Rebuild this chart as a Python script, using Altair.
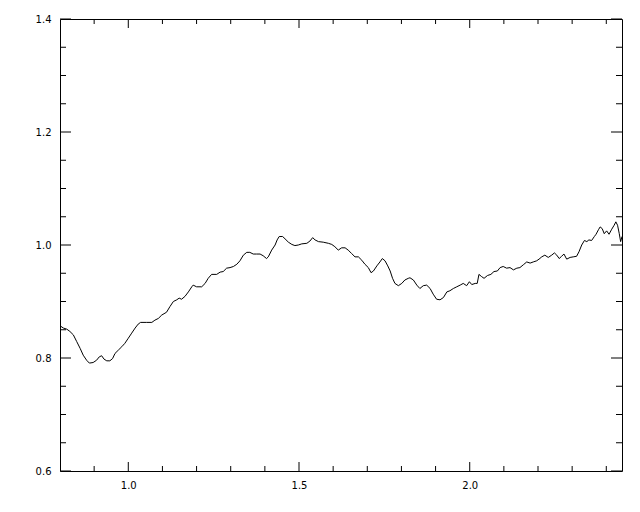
import altair as alt
import pandas as pd

wavelength = [
    0.800, 0.810, 0.820, 0.829, 0.839, 0.849, 0.859, 0.868, 0.878, 0.886, 0.897, 0.907, 0.915, 0.922,
    0.929, 0.937, 0.946, 0.954, 0.961, 0.971, 0.981, 0.990, 1.000, 1.010, 1.020, 1.029, 1.036, 1.054,
    1.069, 1.078, 1.088,
    1.098, 1.112, 1.122, 1.132, 1.142, 1.149, 1.156, 1.166, 1.176, 1.186, 1.190, 1.200, 1.215, 1.225,
    1.234, 1.244, 1.259, 1.269, 1.278, 1.288, 1.298, 1.308, 1.318, 1.327, 1.337, 1.347, 1.356, 1.366,
    1.376, 1.386, 1.395, 1.405, 1.410, 1.420, 1.430, 1.436, 1.442, 1.452, 1.459, 1.469, 1.479, 1.488,
    1.498, 1.508, 1.523, 1.532, 1.540, 1.547, 1.557, 1.571, 1.586, 1.596, 1.605, 1.615, 1.625, 1.635, 1.644,
    1.654, 1.664, 1.674, 1.684, 1.693, 1.703, 1.711, 1.718, 1.728, 1.737, 1.744, 1.752, 1.760, 1.767,
    1.774, 1.781, 1.791, 1.801, 1.810, 1.820, 1.825, 1.835, 1.845, 1.854, 1.864, 1.874, 1.884, 1.893,
    1.903, 1.913, 1.923,
    1.933, 1.942, 1.952, 1.962, 1.972, 1.981, 1.991, 1.999, 2.006, 2.016, 2.022, 2.027, 2.035, 2.042,
    2.052, 2.062, 2.071, 2.081, 2.089, 2.098, 2.108, 2.118, 2.128, 2.138, 2.147, 2.157, 2.167, 2.177,
    2.186, 2.196, 2.203,
    2.211, 2.220, 2.230, 2.240, 2.248, 2.255, 2.262, 2.269, 2.276, 2.284, 2.294, 2.303, 2.313, 2.320,
    2.328, 2.336, 2.343, 2.349, 2.357, 2.365, 2.370, 2.377, 2.382, 2.388, 2.394, 2.401, 2.408, 2.416,
    2.423, 2.428, 2.433, 2.438, 2.442, 2.446,
]
ratio = [
    0.857, 0.853, 0.851, 0.847, 0.841, 0.829, 0.817, 0.805, 0.796, 0.791, 0.792, 0.796, 0.802, 0.804,
    0.798, 0.795, 0.795, 0.799, 0.808, 0.814, 0.820, 0.826, 0.835, 0.844, 0.853, 0.860, 0.863, 0.863,
    0.863, 0.867, 0.870,
    0.876, 0.881, 0.891, 0.900, 0.903, 0.906, 0.904, 0.909, 0.917, 0.926, 0.929, 0.926, 0.926, 0.932,
    0.941, 0.948, 0.948, 0.952, 0.953, 0.959, 0.960, 0.962, 0.966, 0.972, 0.982, 0.987, 0.987, 0.984,
    0.984, 0.984, 0.981, 0.976, 0.979, 0.991, 1.000, 1.009, 1.015, 1.015, 1.011, 1.005, 1.001, 0.999,
    1.000, 1.002, 1.003, 1.007, 1.013, 1.009, 1.006, 1.005, 1.003, 1.001, 0.997, 0.991, 0.995, 0.995, 0.991,
    0.985, 0.979, 0.979, 0.973, 0.966, 0.960, 0.951, 0.954, 0.963, 0.970, 0.976, 0.972, 0.963, 0.954,
    0.941, 0.932, 0.928, 0.932, 0.938, 0.941, 0.942, 0.938, 0.929, 0.923, 0.928, 0.929, 0.923, 0.913,
    0.904, 0.903, 0.907,
    0.917, 0.919, 0.923, 0.926, 0.929, 0.932, 0.928, 0.935, 0.930, 0.932, 0.932, 0.948, 0.944, 0.941,
    0.946, 0.948, 0.953, 0.954, 0.960, 0.962, 0.959, 0.960, 0.956, 0.959, 0.960, 0.965, 0.970, 0.968,
    0.970, 0.972, 0.975,
    0.979, 0.982, 0.978, 0.982, 0.986, 0.982, 0.976, 0.980, 0.984, 0.975, 0.978, 0.979, 0.980, 0.988,
    1.000, 1.008, 1.006, 1.009, 1.008, 1.015, 1.019, 1.027, 1.032, 1.029, 1.020, 1.025, 1.019, 1.028,
    1.035, 1.041, 1.035, 1.020, 1.006, 1.015,
]

x_major = [1.0, 1.5, 2.0]
x_minor = [0.9, 1.1, 1.2, 1.3, 1.4, 1.6, 1.7, 1.8, 1.9, 2.1, 2.2, 2.3, 2.4]
y_major = [0.6, 0.8, 1.0, 1.2, 1.4]
y_minor = [0.65, 0.7, 0.75, 0.85, 0.9, 0.95, 1.05, 1.1, 1.15, 1.25, 1.3, 1.35]

W, H = 562, 452
XMIN, XMAX = 0.8, 2.446
YMIN, YMAX = 0.6, 1.4

xscale = alt.Scale(domain=[XMIN, XMAX], nice=False, zero=False)
yscale = alt.Scale(domain=[YMIN, YMAX], nice=False, zero=False)

df = pd.DataFrame({"w": wavelength, "r": ratio})

label_style = dict(labelFont="DejaVu Sans", labelFontSize=10, labelColor="black",
                   ticks=False, domain=False, grid=False, title=None, format=".1f")

line = alt.Chart(df).mark_line(color="black", strokeWidth=1, clip=True).encode(
    x=alt.X("w:Q", scale=xscale,
            axis=alt.Axis(values=x_major, labelPadding=9, **label_style)),
    y=alt.Y("r:Q", scale=yscale,
            axis=alt.Axis(values=y_major, labelPadding=9, **label_style)),
)


def yticks(vals, length):
    d = pd.DataFrame({"v": vals})
    left = alt.Chart(d).mark_rule(color="black", strokeWidth=1).encode(
        y=alt.Y("v:Q", scale=yscale, axis=None), x=alt.value(0), x2=alt.value(length))
    right = alt.Chart(d).mark_rule(color="black", strokeWidth=1).encode(
        y=alt.Y("v:Q", scale=yscale, axis=None), x=alt.value(W), x2=alt.value(W - length))
    return [left, right]


def xticks(vals, length):
    d = pd.DataFrame({"v": vals})
    bottom = alt.Chart(d).mark_rule(color="black", strokeWidth=1).encode(
        x=alt.X("v:Q", scale=xscale, axis=None), y=alt.value(H), y2=alt.value(H - length))
    top = alt.Chart(d).mark_rule(color="black", strokeWidth=1).encode(
        x=alt.X("v:Q", scale=xscale, axis=None), y=alt.value(0), y2=alt.value(length))
    return [bottom, top]


layers = [line] + yticks(y_major, 11) + yticks(y_minor, 6) + xticks(x_major, 9) + xticks(x_minor, 5)

chart = alt.layer(*layers).resolve_axis(x="independent", y="independent").properties(
    width=W, height=H,
    autosize=alt.AutoSizeParams(type="none"),
    padding={"left": 52, "top": 11, "right": 10, "bottom": 30},
    background="white",
).configure_view(stroke="black", strokeWidth=1)

chart.save("out.html", embed_options={"renderer": "svg", "actions": False})
